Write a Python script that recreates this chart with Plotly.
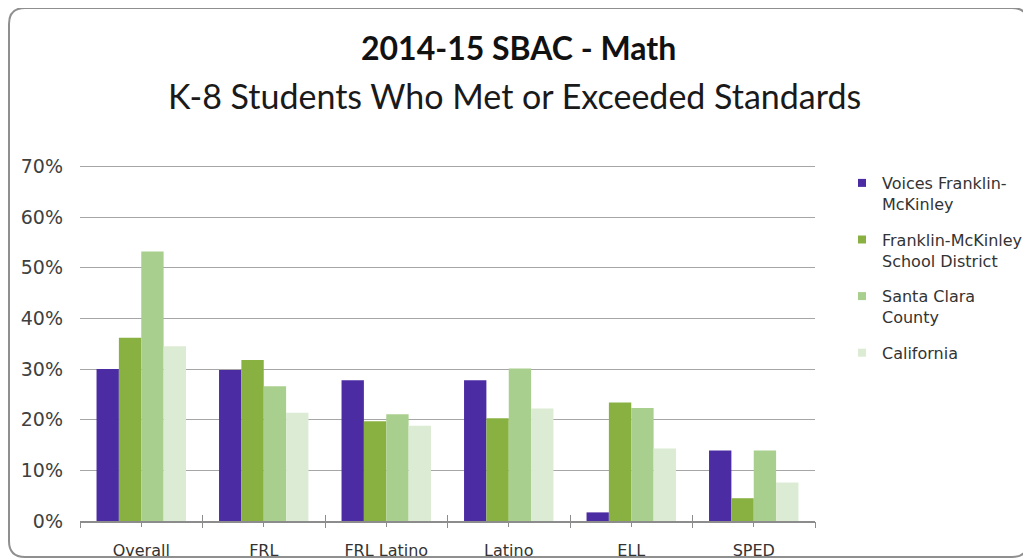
import plotly.graph_objects as go

categories = ["Overall", "FRL", "FRL Latino", "Latino", "ELL", "SPED"]

series_names = [
    "Voices Franklin-<br>McKinley",
    "Franklin-McKinley<br>School District",
    "Santa Clara<br>County",
    "California",
]
voices = [0.30, 0.298, 0.278, 0.278, 0.017, 0.139]
fmsd = [0.362, 0.318, 0.197, 0.203, 0.234, 0.045]
scc = [0.532, 0.266, 0.211, 0.301, 0.223, 0.139]
california = [0.345, 0.214, 0.188, 0.222, 0.143, 0.076]
colors = ["#4b2ca3", "#88b142", "#a8cf8d", "#dcebd3"]

# the page body adds an 8px offset, so the figure is 8px smaller and
# positions below are given in screen pixels and shifted back
OFF = 8
W, H = 1031 - OFF, 560 - OFF
L, R, T, B = 72, 216, 156, 39
pw, ph = W - L - R, H - T - B


def px_x(x):
    return (x - OFF - L) / pw


def px_y(y):
    return (H - B - (y - OFF)) / ph


fig = go.Figure()
for name, vals, col in zip(series_names, [voices, fmsd, scc, california], colors):
    fig.add_trace(go.Bar(x=categories, y=vals, name=name, marker_color=col,
                         marker_line_width=0, showlegend=False))
    # small square legend keys like the original
    fig.add_trace(go.Scatter(x=[None], y=[None], name=name, mode="markers",
                             marker=dict(symbol="square", size=8, color=col),
                             legendgroup=name, hoverinfo="skip"))

# invisible helper traces so the overlay axes draw their tick marks
idx = list(range(len(categories)))
bounds = [i - 0.5 for i in range(len(categories) + 1)]
fig.add_trace(go.Scatter(x=idx, y=[None] * len(idx), xaxis="x2", showlegend=False,
                         hoverinfo="skip"))
fig.add_trace(go.Scatter(x=idx, y=[None] * len(idx), xaxis="x3", showlegend=False,
                         hoverinfo="skip"))

# rounded border around the chart
x0, x1, y0, y1, r = 9, 1028, 8, 557, 16
border = (f"M {px_x(x0 + r)},{px_y(y0)} L {px_x(x1 - r)},{px_y(y0)} "
          f"Q {px_x(x1)},{px_y(y0)} {px_x(x1)},{px_y(y0 + r)} "
          f"L {px_x(x1)},{px_y(y1 - r)} Q {px_x(x1)},{px_y(y1)} {px_x(x1 - r)},{px_y(y1)} "
          f"L {px_x(x0 + r)},{px_y(y1)} Q {px_x(x0)},{px_y(y1)} {px_x(x0)},{px_y(y1 - r)} "
          f"L {px_x(x0)},{px_y(y0 + r)} Q {px_x(x0)},{px_y(y0)} {px_x(x0 + r)},{px_y(y0)} Z")

fig.update_layout(
    width=W, height=H,
    margin=dict(l=L, r=R, t=T, b=B, autoexpand=False),
    paper_bgcolor="white", plot_bgcolor="white",
    font=dict(family="DejaVu Sans", color="#404040"),
    barmode="group", bargap=0.27, bargroupgap=0,
    showlegend=True,
    legend=dict(x=px_x(842), y=px_y(166), xanchor="left", yanchor="top",
                font=dict(size=16, color="#333333"), valign="top",
                tracegroupgap=12, itemsizing="trace", bgcolor="rgba(0,0,0,0)"),
    xaxis=dict(type="category", range=[-0.5, 5.5], showline=True, linecolor="#8c8c8c",
               linewidth=1.5, ticks="outside", ticklen=4, tickcolor="#8c8c8c",
               tickfont=dict(size=16, color="#333333"), ticklabelstandoff=10,
               showgrid=False, automargin=False),
    xaxis2=dict(type="linear", overlaying="x", anchor="y", side="bottom",
                range=[-0.5, 5.5], tickmode="array", tickvals=bounds, ticks="outside",
                ticklen=6, tickcolor="#8c8c8c", showticklabels=False, showgrid=False,
                showline=False, zeroline=False, automargin=False),
    xaxis3=dict(type="linear", overlaying="x", anchor="y", side="bottom",
                range=[-0.5, 5.5], tickmode="array", tickvals=bounds, ticks="inside",
                ticklen=6, tickcolor="#8c8c8c", showticklabels=False, showgrid=False,
                showline=False, zeroline=False, automargin=False),
    yaxis=dict(range=[0, 0.705], tickmode="array", tickvals=[i / 10 for i in range(8)],
               tickformat=".0%", showgrid=True,
               gridcolor="#a6a6a6", gridwidth=1, zeroline=False, showline=False,
               ticks="", tickfont=dict(size=19, color="#404040"), ticklabelstandoff=16,
               automargin=False),
    shapes=[dict(type="path", xref="paper", yref="paper", path=border,
                 line=dict(color="#8f8f8f", width=2), fillcolor="rgba(0,0,0,0)")],
    annotations=[
        dict(text="<b>2014-15 SBAC - Math</b>", xref="paper", yref="paper",
             x=px_x(518), y=px_y(47), xanchor="center", yanchor="middle", showarrow=False,
             font=dict(family="Lato", size=32, color="#111111")),
        dict(text="K-8 Students Who Met or Exceeded Standards", xref="paper", yref="paper",
             x=px_x(514), y=px_y(95), xanchor="center", yanchor="middle", showarrow=False,
             font=dict(family="Lato", size=34, color="#1a1a1a")),
    ],
)

fig.write_html("out.html")
